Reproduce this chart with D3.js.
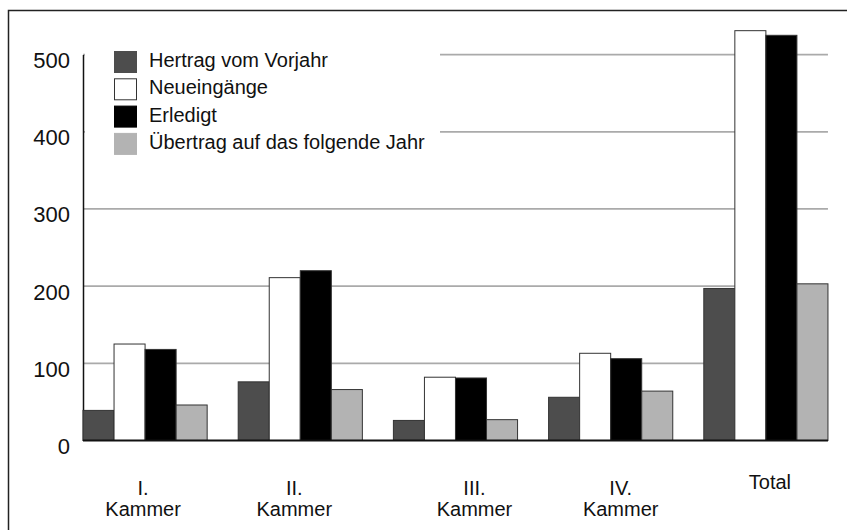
<!DOCTYPE html>
<html>
<head>
<meta charset="utf-8">
<script src="https://cdn.jsdelivr.net/npm/d3@7"></script>
<style>
  body { margin: 0; background: #fff; }
  text { font-family: "Liberation Sans", Arial, Helvetica, sans-serif; fill: #111; }
</style>
</head>
<body>
<div id="chart"></div>
<script>
// Kammer statistics: four series per chamber plus total

var categories = ["I. Kammer", "II. Kammer", "III. Kammer", "IV. Kammer", "Total"]
var series = ["Hertrag vom Vorjahr", "Neueingänge", "Erledigt", "Übertrag auf das folgende Jahr"]
var hertrag   = [39, 76, 26, 56, 197]
var neu       = [125, 211, 82, 113, 531]
var erledigt  = [118, 220, 81, 106, 525]
var uebertrag = [46, 66, 27, 64, 203]
var yTicks = [0, 100, 200, 300, 400, 500]

var colors = ["#4d4d4d", "#ffffff", "#000000", "#b3b3b3"]
// labels under the groups sit a little off-centre in the original
var labelShift = [-2, -6, 19, 10, 4]

var width = 847
var height = 530

var values = [hertrag, neu, erledigt, uebertrag]
var rows = categories.map(function(c, i) {
  return { cat: c, vals: series.map(function(s, j) { return { key: s, value: values[j][i], idx: j } }) }
})

var svg = d3.select("#chart")
  .append("svg")
  .attr("width", width)
  .attr("height", height)

svg.append("rect").attr("width", width).attr("height", height).attr("fill", "#fff")

// outer frame (runs off the right and bottom edge)
svg.append("rect")
  .attr("x", 8.5).attr("y", 10.5)
  .attr("width", 900).attr("height", 600)
  .attr("fill", "none").attr("stroke", "#222").attr("stroke-width", 1.5)

var x0 = d3.scaleBand().domain(categories).range([83, 859]).paddingInner(0)
var slot = x0.bandwidth() / 5
var x1 = d3.scaleBand().domain(series).range([0, slot * 4])
var right = x0("Total") + slot * 4
var y = d3.scaleLinear().domain([0, 500]).range([440.5, 54.6])

// gridlines
svg.append("g")
  .selectAll("line")
  .data(yTicks.filter(function(d) { return d > 0 }))
  .join("line")
  .attr("x1", 83).attr("x2", right)
  .attr("y1", function(d) { return y(d) }).attr("y2", function(d) { return y(d) })
  .attr("stroke", "#aaa").attr("stroke-width", 1.8)

// y axis
var yAxis = svg.append("g")
  .attr("transform", "translate(83,0)")
  .call(d3.axisLeft(y).tickValues(yTicks).tickSize(0).tickPadding(13))
yAxis.select(".domain").attr("stroke", "#111").attr("stroke-width", 1.5)
yAxis.selectAll("text")
  .attr("dy", "0.95em")
  .attr("y", -8)
  .style("font-size", "22px")
  .style("font-family", "'Liberation Sans', Arial, sans-serif")
  .attr("fill", "#111")

// legend sits on a white patch over the upper gridlines
svg.append("rect")
  .attr("x", 85).attr("y", 40).attr("width", 355).attr("height", 108)
  .attr("fill", "#fff")

var legend = svg.append("g").attr("transform", "translate(114,51)")
  .selectAll("g")
  .data(series)
  .join("g")
  .attr("transform", function(d, i) { return "translate(0," + (i * 27.3) + ")" })

legend.append("rect")
  .attr("x", 0.5).attr("y", 0.5)
  .attr("width", 22).attr("height", 21)
  .attr("fill", function(d, i) { return colors[i] })
  .attr("stroke", function(d, i) { return i == 1 ? "#333" : colors[i] })
  .attr("stroke-width", 1)

legend.append("text")
  .attr("x", 35).attr("y", 16)
  .style("font-size", "20px")
  .text(function(d) { return d })

// bars
var groups = svg.append("g")
  .selectAll("g")
  .data(rows)
  .join("g")
  .attr("transform", function(d) { return "translate(" + x0(d.cat) + ",0)" })

groups.selectAll("rect")
  .data(function(d) { return d.vals })
  .join("rect")
  .attr("x", function(d) { return x1(d.key) })
  .attr("y", function(d) { return y(d.value) })
  .attr("width", x1.bandwidth())
  .attr("height", function(d) { return y(0) - y(d.value) })
  .attr("fill", function(d) { return colors[d.idx] })
  .attr("stroke", "#333")
  .attr("stroke-width", 1)

// baseline
svg.append("line")
  .attr("x1", 83).attr("x2", right)
  .attr("y1", y(0)).attr("y2", y(0))
  .attr("stroke", "#111").attr("stroke-width", 2)

// category labels
var labels = svg.append("g")
  .selectAll("text")
  .data(categories)
  .join("text")
  .attr("text-anchor", "middle")
  .attr("transform", function(d, i) {
    return "translate(" + (x0(d) + slot * 2 + labelShift[i]) + "," + (d == "Total" ? 489 : 495) + ")"
  })
  .style("font-size", "20px")

labels.each(function(d) {
  var parts = d.split(" ")
  var t = d3.select(this)
  parts.forEach(function(p, k) {
    t.append("tspan").attr("x", 0).attr("dy", k == 0 ? 0 : 21).text(p)
  })
})
</script>
</body>
</html>
